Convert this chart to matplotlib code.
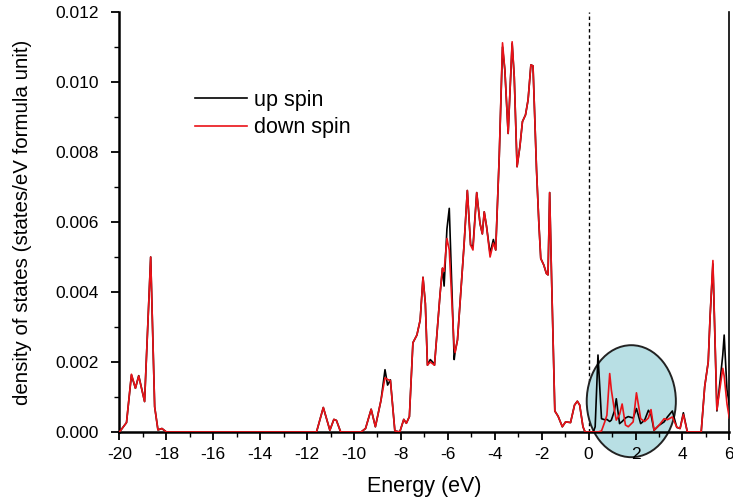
import matplotlib

matplotlib.use("Agg")
import matplotlib.pyplot as plt
from matplotlib.patches import Ellipse
from matplotlib.ticker import FormatStrFormatter, MultipleLocator

plt.rcParams["font.family"] = ["Liberation Sans", "DejaVu Sans"]
plt.rcParams["axes.unicode_minus"] = False

# energy grid (eV) shared by both spin channels
energy = [
    -20.0, -19.7, -19.49, -19.32, -19.18, -18.93, -18.67, -18.5, -18.36, -18.19, -18.0,
    -11.6, -11.31, -11.03, -10.86, -10.75, -10.57,
    -9.7, -9.51, -9.27, -9.09, -8.85, -8.68, -8.57, -8.45, -8.26, -8.05,
    -7.88, -7.77, -7.64, -7.49, -7.32, -7.18, -7.06, -6.96, -6.87, -6.75, -6.65, -6.57,
    -6.33, -6.23, -6.16, -6.04, -5.94, -5.73, -5.69, -5.59, -5.48, -5.31, -5.17, -5.03,
    -4.93, -4.77, -4.63, -4.53, -4.45, -4.35, -4.2, -4.06, -3.96, -3.81, -3.67, -3.57,
    -3.43, -3.26, -3.17, -3.05, -2.93, -2.82, -2.69, -2.58, -2.46, -2.37, -2.22, -2.12,
    -2.04, -1.91, -1.8, -1.73, -1.66, -1.58, -1.44, -1.3, -1.12, -0.98, -0.77, -0.6,
    -0.48, -0.38, -0.24, -0.15, 0.2, 0.28, 0.4, 0.55, 0.69, 0.78, 0.9, 0.97, 1.1,
    1.18, 1.32, 1.43, 1.57, 1.69, 1.9, 2.04, 2.22, 2.39, 2.55, 2.66, 2.79, 3.0, 3.22,
    3.36, 3.57, 3.76, 3.9, 4.04, 4.21, 4.8, 4.95, 5.1, 5.18, 5.3, 5.47, 5.72, 5.78,
    5.9, 6.0,
]

dos_up = [
    0.0, 0.00027, 0.00163, 0.00125, 0.00161, 0.00087, 0.0050, 0.00072, 0.00006, 0.0001, 0.0,
    0.0, 0.0007, 0.00005, 0.00036, 0.00033, 0.0,
    0.0, 0.0001, 0.00065, 0.00015, 0.00091, 0.00178, 0.00134, 0.00149, 0.00003, 0.0,
    0.00036, 0.00025, 0.00044, 0.00255, 0.00277, 0.0032, 0.00442, 0.00367, 0.00191, 0.00207, 0.0020, 0.00191,
    0.00396, 0.00468, 0.00417, 0.0058, 0.00639, 0.00207, 0.0023, 0.00263, 0.00368, 0.00534, 0.0069, 0.00534,
    0.0053, 0.00684, 0.00596, 0.00566, 0.00629, 0.00587, 0.0051, 0.0055, 0.0052, 0.00787, 0.0110, 0.01034,
    0.00853, 0.01110, 0.01015, 0.00758, 0.00815, 0.00887, 0.00906, 0.00949, 0.01049, 0.01046, 0.00749, 0.00596,
    0.00496, 0.00477, 0.00453, 0.00449, 0.00684, 0.00444, 0.0006, 0.00045, 0.00015, 0.00029, 0.00027, 0.00077,
    0.00088, 0.00077, 0.00015, 0.0, 0.0, 0.00015, 0.0022, 0.00038, 0.00035, 0.00036, 0.0003, 0.00034, 0.0006,
    0.00095, 0.00024, 0.0003, 0.0004, 0.00044, 0.0004, 0.00067, 0.00024, 0.00034, 0.00062, 0.0005, 0.00005, 0.00019, 0.00029,
    0.00043, 0.0006, 0.00013, 0.0001, 0.00055, 0.0, 0.0, 0.0013, 0.0020, 0.0033, 0.0048, 0.0006, 0.0022, 0.00277,
    0.0012, 0.0008,
]

dos_down = [
    0.0, 0.00027, 0.00165, 0.00125, 0.0016, 0.00087, 0.0050, 0.00072, 0.00006, 0.0001, 0.0,
    0.0, 0.0007, 0.00005, 0.00036, 0.00033, 0.0,
    0.0, 0.0001, 0.00065, 0.00015, 0.00091, 0.00155, 0.0015, 0.00147, 0.00003, 0.0,
    0.00036, 0.00025, 0.00044, 0.00255, 0.00277, 0.0032, 0.00442, 0.00367, 0.00191, 0.0020, 0.00195, 0.00191,
    0.00396, 0.00468, 0.00459, 0.00553, 0.0052, 0.0024, 0.00227, 0.00263, 0.00368, 0.00534, 0.0069, 0.00534,
    0.0052, 0.00684, 0.00596, 0.00566, 0.00629, 0.00587, 0.0050, 0.0054, 0.0052, 0.00787, 0.01112, 0.01034,
    0.00853, 0.01115, 0.01015, 0.00758, 0.00815, 0.00887, 0.00906, 0.00949, 0.01049, 0.01046, 0.00749, 0.00596,
    0.00496, 0.00477, 0.00453, 0.00449, 0.00684, 0.00444, 0.0006, 0.00045, 0.00015, 0.00029, 0.00027, 0.00077,
    0.00088, 0.00077, 0.00015, 0.0, 0.0, 0.0, 0.0, 0.00003, 0.00029, 0.00048, 0.00167, 0.0012, 0.00063,
    0.00034, 0.0005, 0.0008, 0.0002, 0.00015, 0.00029, 0.00112, 0.00038, 0.0003, 0.0004, 0.00064, 0.00005, 0.00019, 0.00038,
    0.00035, 0.00043, 0.00014, 0.0001, 0.0005, 0.0, 0.0, 0.0013, 0.0020, 0.0033, 0.0049, 0.00063, 0.00182, 0.0016,
    0.0008, 0.0004,
]

series_labels = ["up spin", "down spin"]
series_colors = ["black", "#ea1218"]

# highlighted region around the Fermi level (centre, width, height in data units)
highlight_center = (1.82, 0.00088)
highlight_size = (3.8, 0.0032)

fig = plt.figure(figsize=(7.33, 5.0), dpi=100)
ax = fig.add_axes([0.163, 0.136, 0.832, 0.84])

ax.axvline(0, color="black", linestyle=(0, (2.5, 2)), linewidth=1.0, zorder=1)

# drawn under the axis so ticks and the x labels stay on top of it
ell = Ellipse(highlight_center, highlight_size[0], highlight_size[1],
              facecolor="#b8dfe4", edgecolor="#222222", linewidth=1.4,
              clip_on=False, zorder=1.5)
ax.add_patch(ell)

ax.plot(energy, dos_up, color=series_colors[0], linewidth=1.2, label=series_labels[0], zorder=3)
ax.plot(energy, dos_down, color=series_colors[1], linewidth=1.2, label=series_labels[1], zorder=4)

ax.set_xlim(-20, 6)
ax.set_ylim(0, 0.012)
ax.xaxis.set_major_locator(MultipleLocator(2))
ax.xaxis.set_minor_locator(MultipleLocator(1))
ax.yaxis.set_major_locator(MultipleLocator(0.002))
ax.yaxis.set_minor_locator(MultipleLocator(0.001))
ax.yaxis.set_major_formatter(FormatStrFormatter("%.3f"))

ax.spines["top"].set_visible(False)
for side in ["left", "bottom"]:
    ax.spines[side].set_linewidth(1.8)
ax.spines["right"].set_linewidth(1.2)
ax.tick_params(which="major", length=6, width=1.3, labelsize=12.5, direction="out")
ax.tick_params(which="minor", length=3.5, width=1.0, direction="out")
ax.tick_params(axis="x", pad=5)
ax.tick_params(axis="y", pad=9)

ax.set_xlabel("Energy (eV)", fontsize=15.5, labelpad=10)
ax.set_ylabel("density of states (states/eV formula unit)", fontsize=14.8, labelpad=17)

ax.legend(loc="upper left", bbox_to_anchor=(0.11, 0.835), frameon=False,
          fontsize=15.5, handlelength=2.4, handletextpad=0.35, labelspacing=0.3,
          borderaxespad=0.0)

fig.savefig("out.png", dpi=100)
